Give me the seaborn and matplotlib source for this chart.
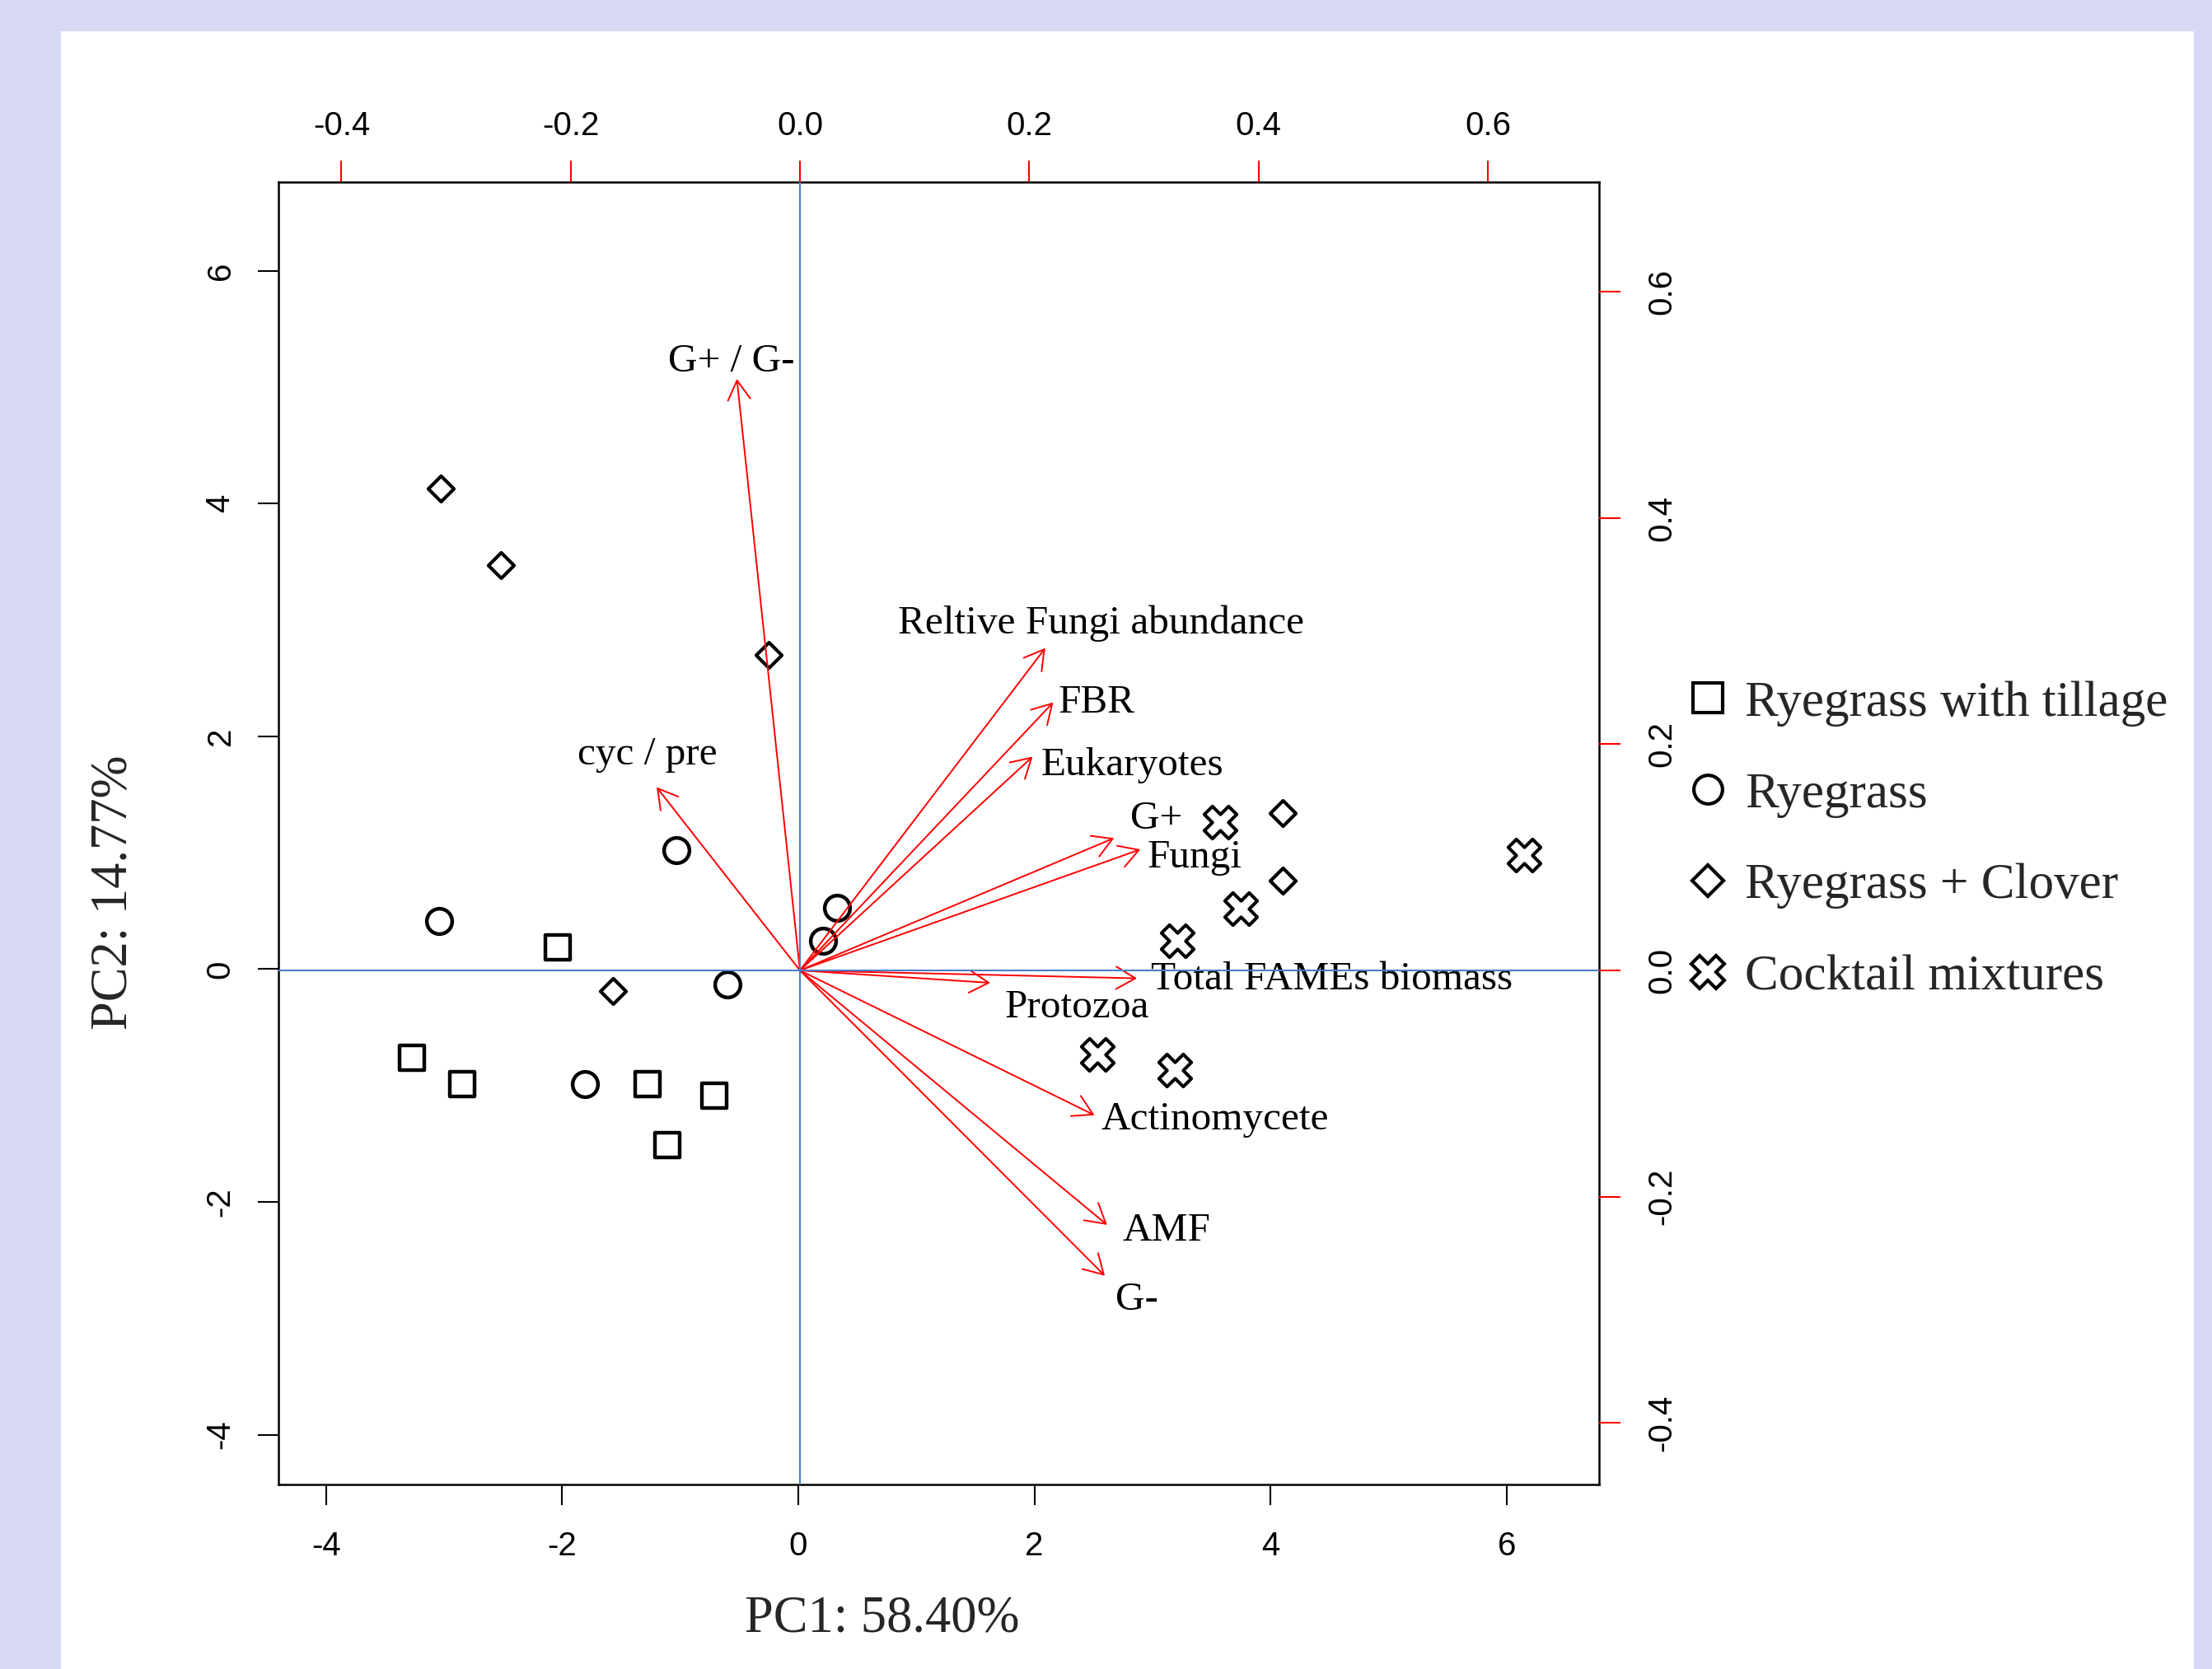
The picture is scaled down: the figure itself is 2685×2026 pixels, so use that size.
import matplotlib
matplotlib.use("Agg")
import matplotlib.pyplot as plt
from matplotlib.lines import Line2D
from matplotlib.patches import Rectangle
from matplotlib.font_manager import FontProperties
import seaborn as sns
import pandas as pd

# ---------------- data ----------------
groups = ["Ryegrass with tillage", "Ryegrass", "Ryegrass + Clover", "Cocktail mixtures"]

tillage_pc1 = [-2.04, -3.27, -2.85, -1.28, -0.71, -1.11]
tillage_pc2 = [0.19, -0.76, -0.99, -0.99, -1.09, -1.51]
rye_pc1 = [-3.04, -1.03, -1.81, -0.60, 0.33, 0.21]
rye_pc2 = [0.41, 1.02, -0.99, -0.13, 0.53, 0.24]
clover_pc1 = [-3.03, -2.52, -0.25, -1.57, 4.10, 4.10]
clover_pc2 = [4.13, 3.47, 2.70, -0.19, 1.34, 0.76]
cocktail_pc1 = [3.57, 6.15, 3.75, 3.21, 2.53, 3.19]
cocktail_pc2 = [1.26, 0.98, 0.52, 0.24, -0.73, -0.87]

variables = ["G+ / G-", "Reltive Fungi abundance", "FBR", "Eukaryotes", "G+", "Fungi",
             "Total FAMEs biomass", "Protozoa", "Actinomycete", "AMF", "G-", "cyc / pre"]
load_pc1 = [-0.055, 0.214, 0.221, 0.203, 0.274, 0.297, 0.294, 0.166, 0.257, 0.268, 0.266, -0.125]
load_pc2 = [0.523, 0.285, 0.237, 0.189, 0.117, 0.107, -0.007, -0.011, -0.128, -0.225, -0.270, 0.162]

# label anchor positions (loading units)
label_x = [-0.060, 0.263, 0.259, 0.290, 0.311, 0.344, 0.464, 0.242, 0.362, 0.320, 0.294, -0.133]
label_y = [0.538, 0.307, 0.237, 0.181, 0.134, 0.100, -0.008, -0.033, -0.132, -0.230, -0.291, 0.191]

score_ticks = [-4, -2, 0, 2, 4, 6]
load_ticks = [-0.4, -0.2, 0.0, 0.2, 0.4, 0.6]
load_tick_labels = ["-0.4", "-0.2", "0.0", "0.2", "0.4", "0.6"]

xlabel = "PC1: 58.40%"
ylabel = "PC2: 14.77%"

df = pd.DataFrame({
    "group": [groups[0]] * 6 + [groups[1]] * 6 + [groups[2]] * 6 + [groups[3]] * 6,
    "PC1": tillage_pc1 + rye_pc1 + clover_pc1 + cocktail_pc1,
    "PC2": tillage_pc2 + rye_pc2 + clover_pc2 + cocktail_pc2,
})

# ---------------- style ----------------
sns.set_style("white")
plt.rcParams["font.family"] = ["Liberation Sans", "DejaVu Sans"]
plt.rcParams["axes.unicode_minus"] = False

SERIF = ["Liberation Serif", "DejaVu Serif"]
LAV = "#D6D8F4"
BLUE = "#4A7EC8"

fig = plt.figure(figsize=(26.85, 20.26), dpi=100)
fig.patch.set_facecolor(LAV)
fig.add_artist(Rectangle((74 / 2685, 0), (2663 - 74) / 2685, (2026 - 38) / 2026,
                         transform=fig.transFigure, facecolor="white", edgecolor="none", zorder=-10))

pos = [338 / 2685, (2026 - 1802) / 2026, (1941 - 338) / 2685, (1802 - 221) / 2026]
ax = fig.add_axes(pos)
ax.set_xlim(-4.403, 6.783)
ax.set_ylim(-4.427, 6.761)

markers = ["s", "o", "D", "X"]
sizes = [470, 490, 250, 800]
lws = [3.2, 3.2, 3.0, 2.9]
for g, m, s, lw in zip(groups, markers, sizes, lws):
    sub = df[df["group"] == g]
    sns.scatterplot(data=sub, x="PC1", y="PC2", marker=m, s=s, color="white",
                    edgecolor="black", linewidth=lw, ax=ax, legend=False, zorder=3)

ax.set_xlabel("")
ax.set_ylabel("")
ax.set_xticks(score_ticks)
ax.set_yticks(score_ticks)
ax.set_xticklabels([str(t) for t in score_ticks])
ax.set_yticklabels([str(t) for t in score_ticks])
ax.tick_params(axis="both", direction="out", length=18, width=1.5, colors="black",
               labelsize=29, pad=22, bottom=True, left=True)
ax.tick_params(axis="y", labelrotation=90, pad=19)
for lbl in ax.get_yticklabels():
    lbl.set_va("center")
for sp in ax.spines.values():
    sp.set_linewidth(1.8)
    sp.set_color("black")

# loadings axes
ax2 = fig.add_axes(pos, frameon=False, label="loadings")
ax2.patch.set_visible(False)
ax2.set_xlim(-0.4549, 0.6971)
ax2.set_ylim(-0.4545, 0.6970)
ax2.xaxis.tick_top()
ax2.yaxis.tick_right()
ax2.set_xticks(load_ticks)
ax2.set_yticks(load_ticks)
ax2.set_xticklabels(load_tick_labels)
ax2.set_yticklabels(load_tick_labels)
ax2.tick_params(axis="both", direction="out", length=19, width=1.5, color="red",
                labelcolor="black", labelsize=29, pad=22)
ax2.tick_params(axis="x", pad=16)
ax2.tick_params(axis="y", labelrotation=90)
for lbl in ax2.get_yticklabels():
    lbl.set_va("center")

ax2.axvline(0, color=BLUE, lw=1.5, zorder=6)
ax2.axhline(0, color=BLUE, lw=1.5, zorder=6)

for x, y in zip(load_pc1, load_pc2):
    ax2.annotate("", xy=(x, y), xytext=(0, 0),
                 arrowprops=dict(arrowstyle="->,head_length=0.6,head_width=0.35", color="red",
                                 lw=1.4, shrinkA=0, shrinkB=0, mutation_scale=28), zorder=4)

for name, lx, ly in zip(variables, label_x, label_y):
    ax2.text(lx, ly, name, ha="center", va="center", fontsize=35.5, family=SERIF, color="black", zorder=5)

fig.text(1071 / 2685, 1 - 1980 / 2026, xlabel, ha="center", va="baseline", fontsize=45, family=SERIF)
fig.text(139 / 2685, 1 - 1083 / 2026, ylabel, ha="center", va="center", rotation=90, fontsize=45, family=SERIF)

# legend
leg_ms = [26, 25, 19, 29]
handles = [Line2D([], [], ls="none", marker=m, ms=ms, mfc="white", mec="black", mew=3)
           for m, ms in zip(markers, leg_ms)]
fig.legend(handles, groups, loc="upper left", bbox_to_anchor=(2050 / 2685, 1 - 826 / 2026),
           frameon=False, prop=FontProperties(family=SERIF, size=44), handlelength=0.76,
           handletextpad=0.36, labelspacing=0.90, borderpad=0, borderaxespad=0)

fig.savefig("out.png", dpi=100, facecolor=fig.get_facecolor())
